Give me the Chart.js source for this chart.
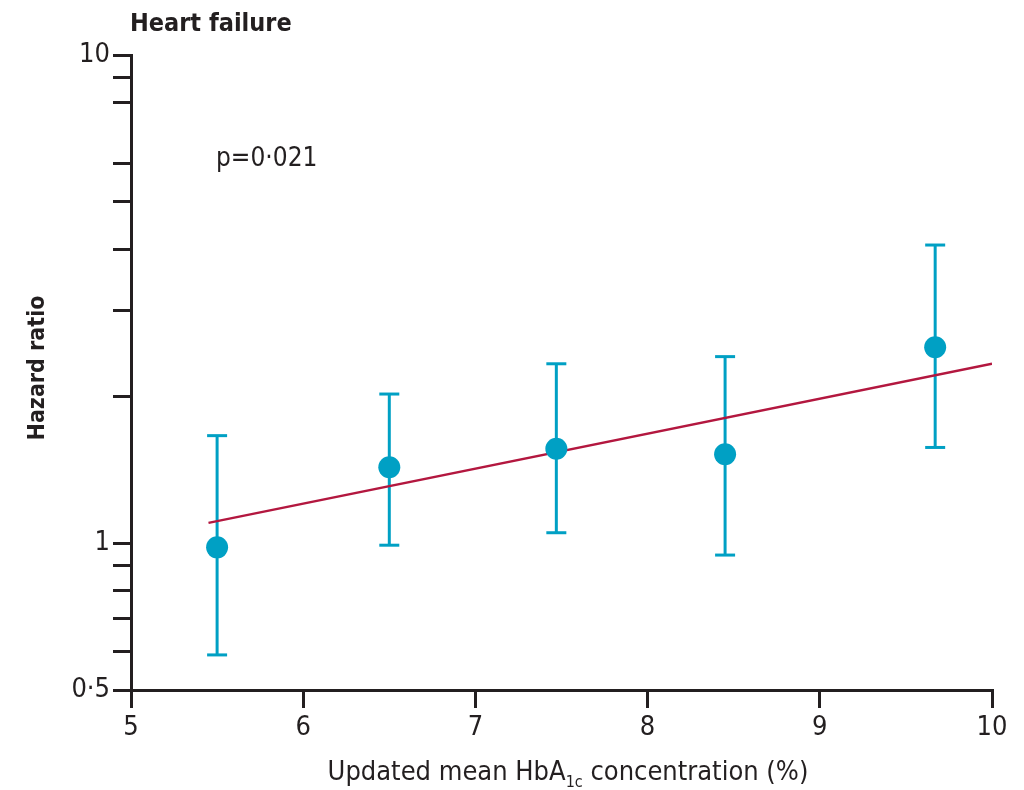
<!DOCTYPE html>
<html>
<head>
<meta charset="utf-8">
<script src="https://cdn.jsdelivr.net/npm/chart.js@4.4.1/dist/chart.umd.min.js"></script>
<style>
  html, body { margin: 0; padding: 0; background: #fff; }
  #wrap { width: 1024px; height: 790px; position: relative; }
</style>
</head>
<body>
<div id="wrap"><canvas id="hfChart"></canvas></div>
<script>
// values
const hba1c = [5.5, 6.5, 7.47, 8.45, 9.67];
const hazardRatio = [0.98, 1.43, 1.56, 1.52, 2.52];
const ciLow = [0.59, 0.99, 1.05, 0.945, 1.57];
const ciHigh = [1.66, 2.02, 2.33, 2.41, 4.08];
const trendX = [5.45, 10];
const trendY = [1.10, 2.33];
const xTicks = [5, 6, 7, 8, 9, 10];
const yTicks = [0.5, 0.6, 0.7, 0.8, 0.9, 1, 2, 3, 4, 5, 6, 8, 9, 10];
const yLabels = { 0.5: '0·5', 1: '1', 10: '10' };

const FONT = "'Liberation Sans Narrow', 'DejaVu Sans Condensed', 'Liberation Sans', sans-serif";
const INK = '#231f20';
const BLUE = '#00a0c4';
const RED = '#b3173f';

// error bars: one little line per point, caps via the 'line' point style
const errorBars = hba1c.map((x, i) => ({
  data: [{ x: x, y: ciLow[i] }, { x: x, y: ciHigh[i] }],
  showLine: true,
  borderColor: BLUE,
  borderWidth: 3,
  pointStyle: 'line',
  pointRadius: 10,
  pointBorderWidth: 3,
  pointBorderColor: BLUE,
  order: 3
}));

const textPlugin = {
  id: 'figureText',
  afterDraw(chart) {
    const ctx = chart.ctx;
    const area = chart.chartArea;
    ctx.save();
    ctx.fillStyle = INK;
    ctx.textBaseline = 'alphabetic';

    // panel title
    ctx.font = 'bold 25px ' + FONT;
    ctx.textAlign = 'left';
    ctx.fillText('Heart failure', area.left - 1, 31);

    // p value
    ctx.font = '26px ' + FONT;
    ctx.fillText('p=0·021', 216, 166);

    // y axis title
    ctx.save();
    ctx.translate(44, 368);
    ctx.rotate(-Math.PI / 2);
    ctx.textAlign = 'center';
    ctx.font = 'bold 23px ' + FONT;
    ctx.fillText('Hazard ratio', 0, 0);
    ctx.restore();

    // x axis title with subscript
    const main1 = 'Updated mean HbA';
    const sub = '1c';
    const main2 = ' concentration (%)';
    ctx.font = '27px ' + FONT;
    const w1 = ctx.measureText(main1).width;
    const w3 = ctx.measureText(main2).width;
    ctx.font = '16px ' + FONT;
    const w2 = ctx.measureText(sub).width;
    const total = w1 + w2 + w3;
    let x = 568 - total / 2;
    const base = 780;
    ctx.textAlign = 'left';
    ctx.font = '27px ' + FONT;
    ctx.fillText(main1, x, base);
    x += w1;
    ctx.font = '16px ' + FONT;
    ctx.fillText(sub, x, base + 7);
    x += w2;
    ctx.font = '27px ' + FONT;
    ctx.fillText(main2, x, base);
    ctx.restore();
  }
};

const ctx = document.getElementById('hfChart').getContext('2d');
const hfChart = new Chart(ctx, {
  type: 'scatter',
  data: {
    datasets: [
      {
        data: hba1c.map((x, i) => ({ x: x, y: hazardRatio[i] })),
        backgroundColor: BLUE,
        borderWidth: 0,
        pointRadius: 11,
        order: 1
      },
      {
        data: trendX.map((x, i) => ({ x: x, y: trendY[i] })),
        showLine: true,
        borderColor: RED,
        borderWidth: 2.5,
        pointRadius: 0,
        order: 2
      },
      ...errorBars
    ]
  },
  options: {
    responsive: true,
    maintainAspectRatio: false,
    animation: false,
    devicePixelRatio: 1,
    events: [],
    layout: { padding: { top: 55, right: 32, bottom: 0, left: 0 } },
    plugins: {
      legend: { display: false },
      tooltip: { enabled: false }
    },
    scales: {
      x: {
        type: 'linear',
        min: 5,
        max: 10,
        afterBuildTicks: s => { s.ticks = xTicks.map(v => ({ value: v })); },
        afterFit: s => { s.height = 100; },
        grid: { drawOnChartArea: false, tickLength: 18, lineWidth: 3, color: INK },
        border: { width: 3, color: INK },
        ticks: { color: INK, font: { size: 27, family: FONT }, padding: 4, maxRotation: 0, autoSkip: false }
      },
      y: {
        type: 'logarithmic',
        min: 0.5,
        max: 10,
        afterBuildTicks: s => { s.ticks = yTicks.map(v => ({ value: v })); },
        afterFit: s => { s.width = 131; },
        grid: { drawOnChartArea: false, tickLength: 18, lineWidth: 3, color: INK },
        border: { width: 3, color: INK },
        ticks: {
          color: INK,
          font: { size: 27, family: FONT },
          padding: 3,
          autoSkip: false,
          callback: v => yLabels[v] ?? ''
        }
      }
    }
  },
  plugins: [textPlugin]
});
</script>
</body>
</html>
